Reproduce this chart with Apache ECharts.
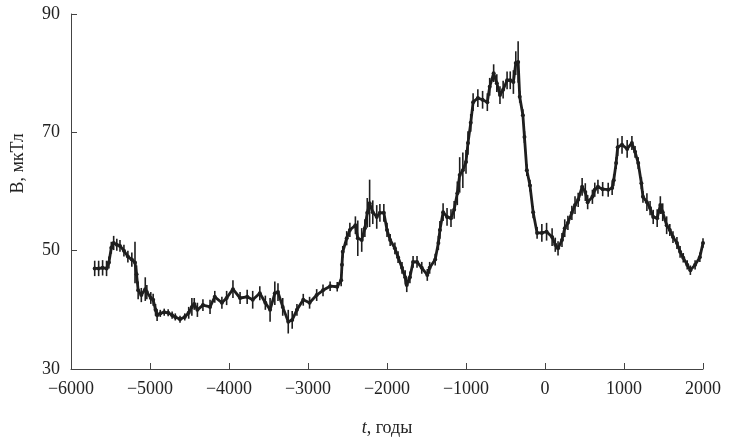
<!DOCTYPE html>
<html>
<head>
<meta charset="utf-8">
<script src="https://cdn.jsdelivr.net/npm/echarts@6/dist/echarts.min.js"></script>
<style>html,body{margin:0;padding:0;background:#fff}#c{width:754px;height:444px}</style>
</head>
<body>
<div id="c"></div>
<script>
const years = [-5700,-5650,-5600,-5550,-5520,-5490,-5460,-5420,-5380,-5330,-5280,-5230,-5190,-5170,-5150,-5110,-5060,-5040,-4990,-4960,-4930,-4910,-4870,-4820,-4770,-4720,-4680,-4620,-4560,-4510,-4470,-4440,-4400,-4330,-4240,-4180,-4090,-4030,-3950,-3860,-3770,-3700,-3610,-3540,-3480,-3420,-3380,-3320,-3250,-3200,-3140,-3060,-2980,-2890,-2810,-2720,-2630,-2580,-2570,-2560,-2510,-2470,-2400,-2370,-2320,-2280,-2250,-2220,-2180,-2130,-2090,-2040,-2000,-1960,-1900,-1860,-1810,-1770,-1750,-1710,-1670,-1620,-1560,-1490,-1460,-1390,-1350,-1330,-1290,-1240,-1190,-1150,-1110,-1080,-1040,-1000,-975,-940,-910,-850,-790,-730,-700,-650,-610,-570,-530,-480,-440,-400,-370,-340,-320,-280,-260,-230,-190,-150,-100,-40,20,90,130,165,215,250,290,340,380,420,470,510,540,600,630,670,730,800,850,870,900,920,975,1040,1100,1140,1180,1220,1240,1290,1330,1370,1420,1460,1490,1540,1580,1620,1670,1710,1750,1800,1840,1900,1960,2000];
const values = [47.0,47.0,47.1,47.0,48.0,50.5,51.3,51.0,50.8,50.0,49.0,48.5,48.0,46.0,43.3,42.5,43.5,43.0,42.0,41.7,40.0,39.1,39.4,39.6,39.5,39.1,38.8,38.4,38.8,39.5,40.5,41.0,40.0,40.8,40.5,42.2,41.2,42.0,43.5,42.0,42.2,41.7,42.8,41.2,40.0,42.8,43.0,40.5,38.0,38.3,40.0,41.7,41.2,42.5,43.3,44.0,43.9,45.0,47.6,49.8,52.1,53.5,54.3,52.1,51.8,53.8,56.4,58.0,56.5,55.7,56.4,56.4,53.5,51.8,50.4,48.9,47.1,45.5,44.2,45.5,48.1,48.1,47.1,45.9,47.1,48.5,51.3,53.5,56.5,55.7,55.5,56.9,59.7,62.8,63.6,65.0,68.2,71.6,75.1,75.8,75.5,75.1,77.7,80.0,78.3,76.3,77.2,78.8,78.8,78.5,81.7,81.9,76.0,72.9,69.2,63.6,61.0,56.5,53.0,53.0,53.2,52.3,51.0,50.4,51.8,53.8,54.7,56.4,57.7,58.6,60.8,59.9,58.2,59.1,60.3,60.8,60.4,60.3,60.6,61.9,64.8,67.5,67.9,67.2,68.2,66.7,64.8,61.4,59.1,58.2,57.2,55.7,55.5,57.7,56.5,54.3,53.5,52.3,51.3,49.8,48.8,47.6,46.7,47.6,48.9,51.3];
const errors = [1.3,1.3,1.3,1.3,1.0,1.0,1.2,1.0,1.0,1.0,1.0,1.2,3.5,1.5,1.5,1.2,2.0,1.2,1.0,1.0,1.0,1.0,0.6,0.6,0.6,0.6,0.6,0.6,0.6,1.0,1.5,1.0,1.2,1.0,1.2,1.0,1.0,1.2,1.5,1.0,1.2,1.5,1.2,1.2,2.0,2.0,1.5,1.5,2.0,1.5,1.0,1.0,1.0,1.0,1.0,0.8,0.8,1.0,1.0,1.0,1.2,1.2,1.5,3.0,2.0,1.5,2.5,4.0,2.0,2.0,1.5,1.5,1.2,1.0,1.0,1.0,1.0,1.2,1.2,1.0,1.0,1.0,1.0,1.0,1.0,1.0,1.2,1.5,1.5,1.5,1.5,1.5,2.0,3.0,3.0,2.0,2.0,1.5,1.5,1.5,1.5,1.5,1.5,1.5,1.5,1.5,1.5,1.5,1.5,2.0,2.0,3.5,1.0,1.0,1.0,1.0,1.0,1.0,1.0,1.5,1.5,1.5,1.2,1.2,1.2,1.5,1.2,1.2,1.5,1.2,1.5,1.5,1.2,1.2,1.2,1.2,1.2,1.2,1.2,1.0,1.0,1.5,1.5,1.5,1.2,1.0,1.0,1.0,1.0,1.5,1.2,1.2,1.5,1.5,1.5,1.5,1.0,1.0,1.0,1.0,0.8,0.8,0.8,0.8,0.8,0.8];
const xTicks = {min: -6000, max: 2000, step: 1000};
const yTicks = {min: 30, max: 90, step: 20};

const lineData = years.map((y, i) => [y, values[i]]);
const errData = years.map((y, i) => [y, values[i] - errors[i], values[i] + errors[i]]);
const ink = '#1e1e1e';
const font = 'Liberation Serif';

const chart = echarts.init(document.getElementById('c'), null, {renderer: 'canvas'});
chart.setOption({
  backgroundColor: '#fff',
  animation: false,
  grid: {left: 71, right: 51, top: 14, bottom: 75},
  xAxis: {
    type: 'value', min: xTicks.min, max: xTicks.max, interval: xTicks.step,
    axisLine: {onZero: false, lineStyle: {color: '#444', width: 1}},
    axisTick: {inside: true, length: 6, lineStyle: {color: '#444'}},
    splitLine: {show: false},
    axisLabel: {color: '#222', fontFamily: font, fontSize: 18, margin: 11,
      formatter: v => String(v).replace('-', '\u2212')},
    name: '{i|t}, годы', nameLocation: 'middle', nameGap: 50,
    nameTextStyle: {color: '#222', fontFamily: font, fontSize: 18,
      rich: {i: {fontStyle: 'italic', fontFamily: font, fontSize: 18, color: '#222'}}}
  },
  yAxis: {
    type: 'value', min: yTicks.min, max: yTicks.max, interval: yTicks.step,
    axisLine: {show: true, onZero: false, lineStyle: {color: '#444', width: 1}},
    axisTick: {show: true, inside: true, length: 6, lineStyle: {color: '#444'}},
    splitLine: {show: false},
    axisLabel: {color: '#222', fontFamily: font, fontSize: 18, margin: 11},
    name: 'B, мкТл', nameLocation: 'middle', nameGap: 44, nameRotate: 90,
    nameTextStyle: {color: '#222', fontFamily: font, fontSize: 18, padding: [0, 0, 0, 56]}
  },
  series: [
    {
      type: 'custom',
      data: errData,
      renderItem: (params, api) => {
        const p1 = api.coord([api.value(0), api.value(1)]);
        const p2 = api.coord([api.value(0), api.value(2)]);
        return {type: 'line', shape: {x1: p1[0], y1: p1[1], x2: p2[0], y2: p2[1]},
          style: {stroke: ink, lineWidth: 1.6}};
      },
      z: 2
    },
    {
      type: 'line',
      data: lineData,
      symbol: 'circle', symbolSize: 4,
      itemStyle: {color: ink},
      lineStyle: {color: ink, width: 2.8},
      z: 3
    }
  ]
});
</script>
</body>
</html>
